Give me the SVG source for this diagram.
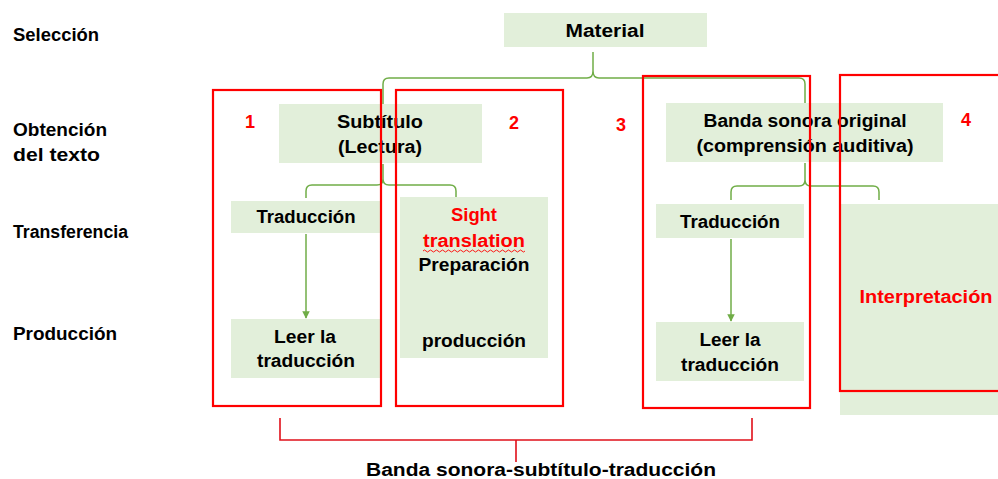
<svg xmlns="http://www.w3.org/2000/svg" width="998" height="479" viewBox="0 0 998 479">
<style>
.bg{fill:#ffffff}
.box{fill:#E2EFDA;stroke:none}
.gl{fill:none;stroke:#70AD47;stroke-width:1.5}
.rb{fill:none;stroke:#FF0000;stroke-width:2.2}
.rl{fill:none;stroke:#E0101A;stroke-width:1.6}
text{font-family:"Liberation Sans",Arial,sans-serif;font-weight:bold;font-size:18px;fill:#000}
.c{text-anchor:middle}
.red{fill:#FF0000}
.num{fill:#FF0000;font-size:18px}
</style>
<defs>
<marker id="ah" viewBox="0 0 10 10" refX="9" refY="5" markerWidth="5" markerHeight="5" orient="auto">
<path d="M0,0 L10,5 L0,10 z" fill="#70AD47"/>
</marker>
</defs>
<rect class="bg" x="0" y="0" width="998" height="479"/>

<g id="labels">
<text x="13" y="41" textLength="86" lengthAdjust="spacingAndGlyphs">Selección</text>
<text x="13" y="136" textLength="94" lengthAdjust="spacingAndGlyphs">Obtención</text>
<text x="13" y="161" textLength="87" lengthAdjust="spacingAndGlyphs">del texto</text>
<text x="13" y="238" textLength="115" lengthAdjust="spacingAndGlyphs">Transferencia</text>
<text x="13" y="340" textLength="104" lengthAdjust="spacingAndGlyphs">Producción</text>
</g>

<g id="connectors">
<path class="gl" d="M383,104 V84 Q383,78 389,78 H587 Q593,78 593,71 V52 M593,71 Q593,78 599,78 H799 Q805,78 805,84 V103"/>
<path class="gl" d="M306,198 V191 Q306,185 312,185 H377 Q383,185 383,179 V164 M383,179 Q383,185 389,185 H450 Q456,185 456,191 V197"/>
<path class="gl" d="M731,200 V192 Q731,186 737,186 H799 Q805,186 805,180 V163 M805,180 Q805,186 811,186 H873 Q879,186 879,192 V200"/>
<line class="gl" x1="306" y1="234" x2="306" y2="318" marker-end="url(#ah)"/>
<line class="gl" x1="731" y1="239" x2="731" y2="321" marker-end="url(#ah)"/>
<path class="rl" d="M280,418 V440 H752 V418 M516,440 V462"/>
</g>

<g id="material">
<rect class="box" x="504" y="13" width="203" height="34"/>
<text class="c" x="605" y="37" textLength="79" lengthAdjust="spacingAndGlyphs">Material</text>
</g>

<g id="subtitulo">
<rect class="box" x="279" y="104" width="203" height="59"/>
<text class="c" x="380" y="128" textLength="86" lengthAdjust="spacingAndGlyphs">Subtítulo</text>
<text class="c" x="380" y="153" textLength="84" lengthAdjust="spacingAndGlyphs">(Lectura)</text>
</g>

<g id="banda-sonora">
<rect class="box" x="666" y="103" width="277" height="59"/>
<text class="c" x="805" y="127" textLength="203" lengthAdjust="spacingAndGlyphs">Banda sonora original</text>
<text class="c" x="805" y="152" textLength="217" lengthAdjust="spacingAndGlyphs">(comprensión auditiva)</text>
</g>

<g id="traduccion-1">
<rect class="box" x="231" y="201" width="149" height="32"/>
<text class="c" x="306" y="223" textLength="99" lengthAdjust="spacingAndGlyphs">Traducción</text>
</g>

<g id="leer-1">
<rect class="box" x="231" y="319" width="149" height="59"/>
<text class="c" x="305" y="343" textLength="62" lengthAdjust="spacingAndGlyphs">Leer la</text>
<text class="c" x="306" y="367" textLength="98" lengthAdjust="spacingAndGlyphs">traducción</text>
</g>

<g id="sight">
<rect class="box" x="400" y="197" width="148" height="161"/>
<text class="c red" x="474" y="221" textLength="46" lengthAdjust="spacingAndGlyphs">Sight</text>
<text class="c red" x="474" y="247" textLength="102" lengthAdjust="spacingAndGlyphs">translation</text>
<path d="M423,251 q1.5,-2 3,0 t3,0 t3,0 t3,0 t3,0 t3,0 t3,0 t3,0 t3,0 t3,0 t3,0 t3,0 t3,0 t3,0 t3,0 t3,0 t3,0 t3,0 t3,0 t3,0 t3,0 t3,0 t3,0 t3,0 t3,0 t3,0 t3,0 t3,0 t3,0 t3,0 t3,0 t3,0 t3,0 t3,0" fill="none" stroke="#FF0000" stroke-width="0.9"/>
<text class="c" x="474" y="271" textLength="111" lengthAdjust="spacingAndGlyphs">Preparación</text>
<text class="c" x="474" y="347" textLength="104" lengthAdjust="spacingAndGlyphs">producción</text>
</g>

<g id="traduccion-3">
<rect class="box" x="656" y="204" width="148" height="34"/>
<text class="c" x="730" y="228" textLength="100" lengthAdjust="spacingAndGlyphs">Traducción</text>
</g>

<g id="leer-3">
<rect class="box" x="656" y="322" width="148" height="59"/>
<text class="c" x="730" y="346" textLength="61" lengthAdjust="spacingAndGlyphs">Leer la</text>
<text class="c" x="730" y="371" textLength="98" lengthAdjust="spacingAndGlyphs">traducción</text>
</g>

<g id="interpretacion">
<rect class="box" x="840" y="204" width="160" height="211"/>
<text class="c red" x="926" y="303" textLength="133" lengthAdjust="spacingAndGlyphs">Interpretación</text>
</g>

<g id="group-1">
<rect class="rb" x="213" y="90" width="168" height="316"/>
<text class="num" x="245" y="128">1</text>
</g>
<g id="group-2">
<rect class="rb" x="396" y="90" width="167" height="316"/>
<text class="num" x="509" y="129">2</text>
</g>
<g id="group-3">
<rect class="rb" x="643" y="76" width="167" height="332"/>
<text class="num" x="616" y="131">3</text>
</g>
<g id="group-4">
<rect class="rb" x="840" y="75" width="180" height="316"/>
<text class="num" x="961" y="126">4</text>
</g>

<g id="bottom-label">
<text x="366" y="476" textLength="350" lengthAdjust="spacingAndGlyphs">Banda sonora-subtítulo-traducción</text>
</g>
</svg>
